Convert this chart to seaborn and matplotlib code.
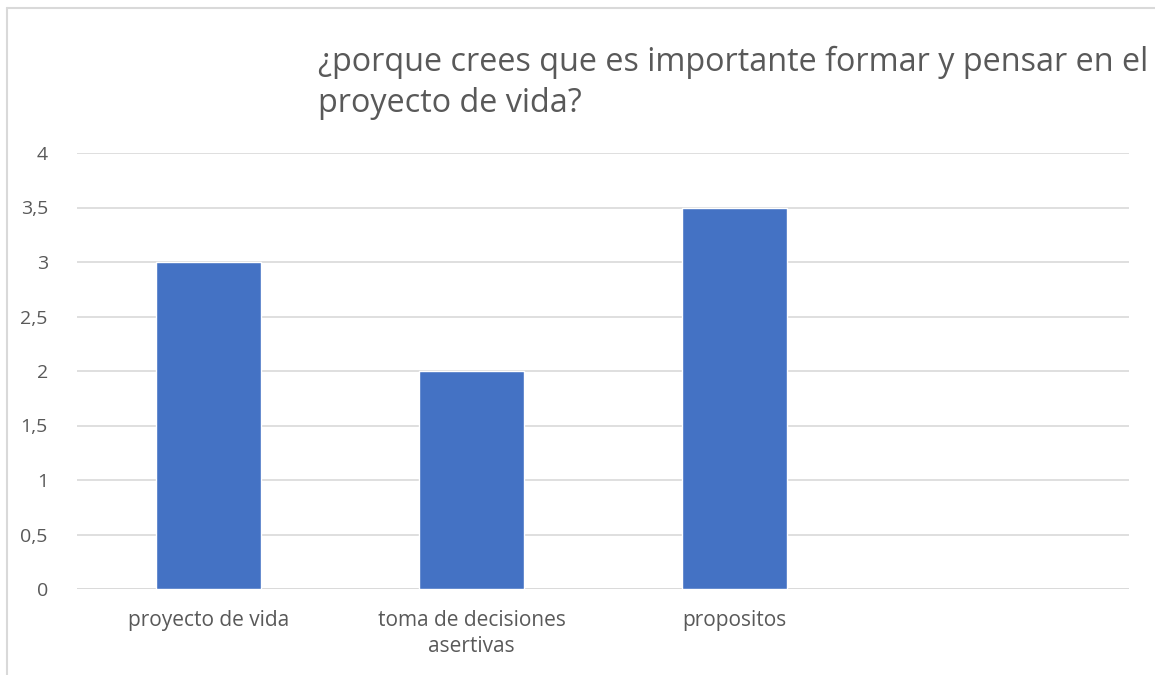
import matplotlib
matplotlib.use("Agg")
import matplotlib.pyplot as plt
import seaborn as sns
import pandas as pd
from matplotlib.lines import Line2D

# Datos
categorias = ["proyecto de vida", "toma de decisiones\nasertivas", "propositos"]
valores = [3, 2, 3.5]
ticks_y = [0, 0.5, 1, 1.5, 2, 2.5, 3, 3.5, 4]
etiquetas_y = ["0", "0,5", "1", "1,5", "2", "2,5", "3", "3,5", "4"]

sns.set_theme(style="white")
plt.rcParams['font.family'] = ['Open Sans', 'DejaVu Sans']

GRIS = "#595959"
AZUL = "#4472C4"

df = pd.DataFrame({"categoria": categorias, "valor": valores})

fig = plt.figure(figsize=(11.55, 6.75), dpi=100)
ax = fig.add_axes([77 / 1155, 1 - 589 / 675, (1129 - 77) / 1155, (589 - 153) / 675])

sns.barplot(data=df, x="categoria", y="valor", color=AZUL, width=0.4,
            saturation=1, ax=ax, zorder=3)

ax.set_xlim(-0.5, 3.5)
ax.set_ylim(0, 4)
ax.set_yticks(ticks_y)
ax.set_yticklabels(etiquetas_y)
ax.yaxis.grid(True, color="#d9d9d9", lw=1.2, zorder=0)
ax.xaxis.grid(False)
for s in ax.spines.values():
    s.set_visible(False)
ax.axhline(0, color="#d9d9d9", lw=1.2, zorder=2)
ax.set_xlabel("")
ax.set_ylabel("")
ax.tick_params(axis="both", length=0, colors=GRIS, labelsize=14)
ax.tick_params(axis="x", pad=15, labelsize=15)
ax.tick_params(axis="y", pad=21)
for lbl in ax.get_xticklabels():
    lbl.set_linespacing(1.35)

fig.text(318 / 1155, 1 - 83 / 675,
         "¿porque crees que es importante formar y pensar en el\nproyecto de vida?",
         fontsize=23.3, color=GRIS, ha="left", va="center", linespacing=1.3)

# marco del área del gráfico
fig.add_artist(Line2D([7 / 1155, 7 / 1155], [0, 1 - 8 / 675], color="#d9d9d9", lw=1.5,
                      transform=fig.transFigure))
fig.add_artist(Line2D([7 / 1155, 1], [1 - 8 / 675, 1 - 8 / 675], color="#d9d9d9", lw=1.5,
                      transform=fig.transFigure))

fig.savefig("out.png", dpi=100)
